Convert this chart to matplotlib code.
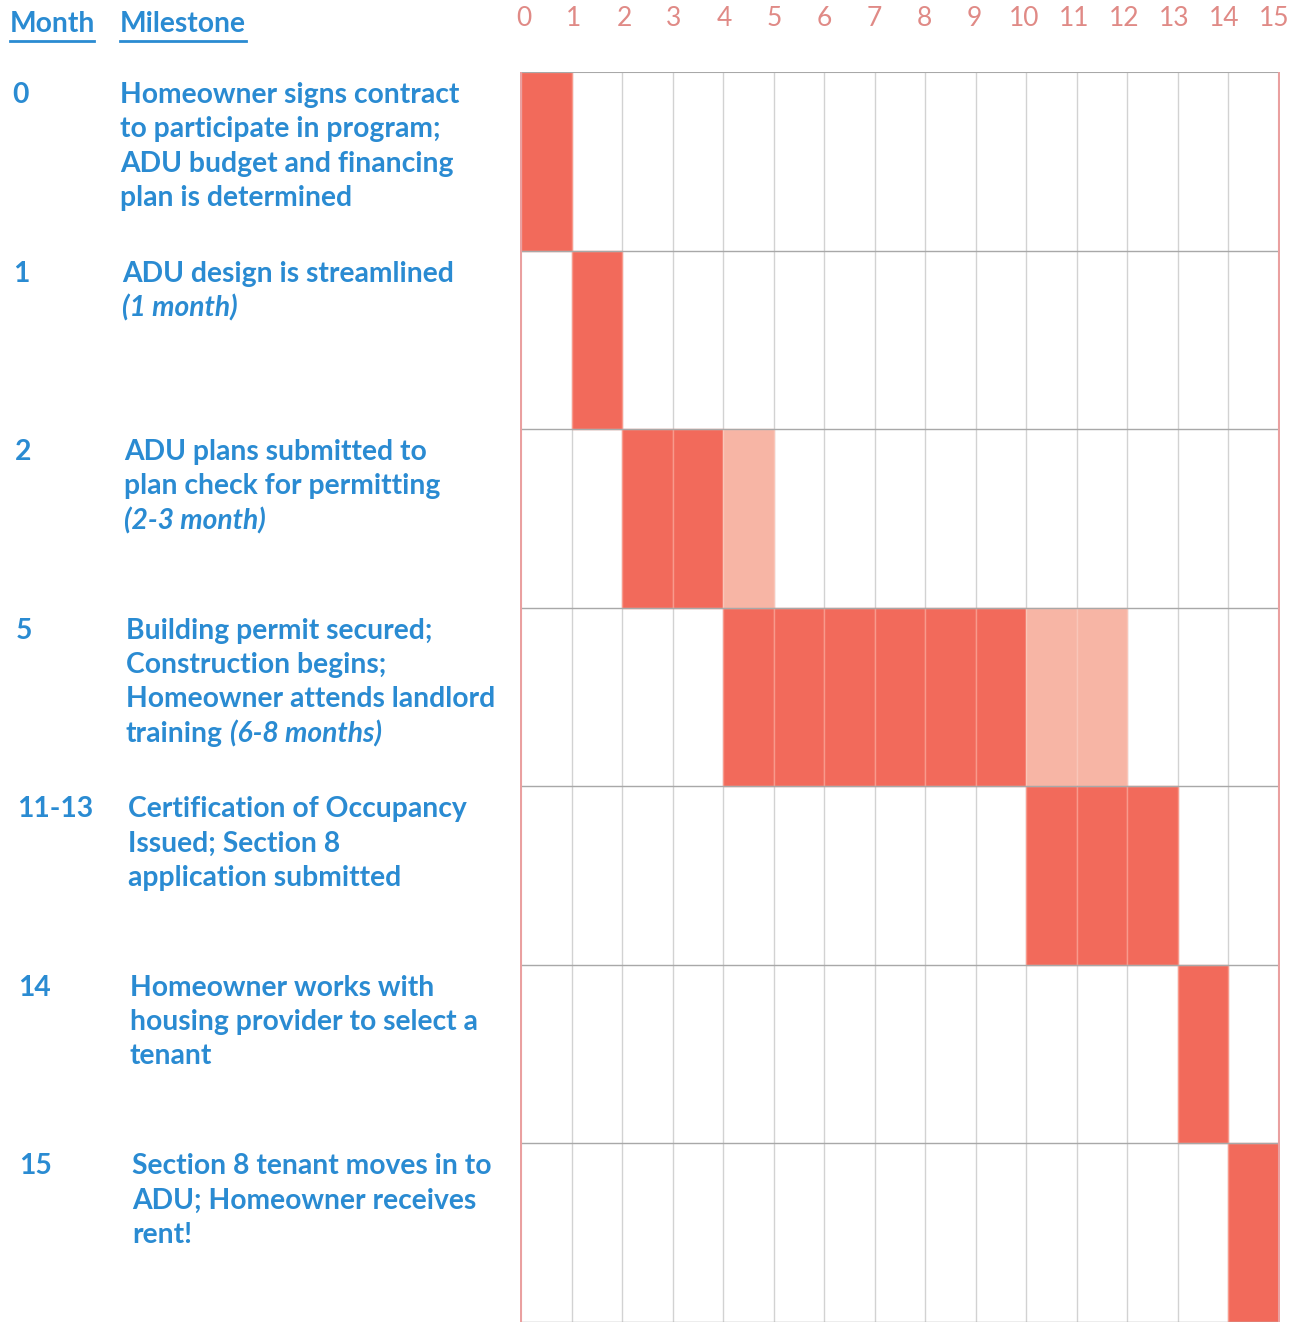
import numpy as np
import matplotlib.pyplot as plt

W, H = 1296, 1322

months = [str(m) for m in range(16)]
row_months = ['0', '1', '2', '5', '11-13', '14', '15']
milestones = [
    'Homeowner signs contract\nto participate in program;\nADU budget and financing\nplan is determined',
    'ADU design is streamlined',
    'ADU plans submitted to\nplan check for permitting',
    'Building permit secured;\nConstruction begins;\nHomeowner attends landlord\ntraining',
    'Certification of Occupancy\nIssued; Section 8\napplication submitted',
    'Homeowner works with\nhousing provider to select a\ntenant',
    'Section 8 tenant moves in to\nADU; Homeowner receives\nrent!',
]
# italic note, and whether it goes on a new line or after the last line
notes = ['', '(1 month)', '(2-3 month)', '(6-8 months)', '', '', '']
note_inline = [False, False, False, True, False, False, False]

start = [0, 1, 2, 4, 10, 13, 14]
dur = [1, 1, 2, 6, 3, 1, 1]        # firm duration
extra = [0, 0, 1, 2, 0, 0, 0]      # possible extension

dark = '#f26a5b'
light = '#f7b5a5'
blue = '#2a8bd2'
tickc = '#e08a86'
fs = 20.3
wt = 'bold'

plt.rcParams['font.family'] = ['Lato', 'DejaVu Sans']

fig = plt.figure(figsize=(W / 100, H / 100), dpi=100)
fig.patch.set_facecolor('white')

def px(x, y):
    return x / W, 1 - y / H

ax = fig.add_axes([520 / W, 0, 760 / W, (H - 72) / H])
n = len(start)
for i in range(n):
    cells = np.arange(start[i], start[i] + dur[i])
    ax.barh([i] * len(cells), [1] * len(cells), left=cells, height=1,
            color=dark, edgecolor='#f89a8c', linewidth=1, zorder=2)
    if extra[i]:
        cells = np.arange(start[i] + dur[i], start[i] + dur[i] + extra[i])
        ax.barh([i] * len(cells), [1] * len(cells), left=cells, height=1,
                color=light, edgecolor='#f9c6b9', linewidth=1, zorder=2)

for x in range(1, 15):
    ax.axvline(x, color='#d2d2d2', lw=1, zorder=1)
for y in range(n):
    ax.axhline(y + 0.5, color='#a8a8a8', lw=1, zorder=3)
ax.axhline(-0.5, color='#a8a8a8', lw=1.5, zorder=3)
ax.axvline(0, color='#eaa0a0', lw=1.5, zorder=3)
ax.axvline(15, color='#eaa0a0', lw=1.5, zorder=3)

ax.set_xlim(-0.02, 15.02)
ax.set_ylim(n - 0.5, -0.5)
ax.set_xticks([])
ax.set_yticks([])
for s in ax.spines.values():
    s.set_visible(False)

# month numbers along top
for m, lab in enumerate(months):
    fig.text(*px(520 + m * 50.0 + 4, 18), lab, color=tickc, fontsize=19,
             fontweight='normal', ha='center', va='center')

# headers
fig.text(*px(10, 24), 'Month', color=blue, fontsize=fs, fontweight=wt,
         ha='left', va='center')
fig.text(*px(120, 24), 'Milestone', color=blue, fontsize=fs, fontweight=wt,
         ha='left', va='center')
fig.add_artist(plt.Line2D([10 / W, 94 / W], [1 - 41 / H] * 2, color=blue, lw=2))
fig.add_artist(plt.Line2D([120 / W, 246 / W], [1 - 41 / H] * 2, color=blue, lw=2))

row_h = (H - 72) / n
lh = 34.3
inline = []
for i in range(n):
    top = 72 + i * row_h + 10
    xo = 120 + i * 2
    fig.text(*px(12 + i * 1.2, top), row_months[i], color=blue, fontsize=fs,
             fontweight=wt, ha='left', va='top')
    lines = milestones[i].split('\n')
    for k, line in enumerate(lines):
        t = fig.text(*px(xo, top + k * lh), line, color=blue, fontsize=fs,
                     fontweight=wt, ha='left', va='top')
    if notes[i]:
        if note_inline[i]:
            inline.append((t, xo, top + (len(lines) - 1) * lh, notes[i]))
        else:
            fig.text(*px(xo, top + len(lines) * lh), notes[i], color=blue,
                     fontsize=fs, fontweight=wt, fontstyle='italic',
                     ha='left', va='top')

# italic note that follows text on the same line
fig.canvas.draw()
for t, xo, y, note in inline:
    bb = t.get_window_extent()
    fig.text(*px(bb.x1 + 7, y), note, color=blue, fontsize=fs, fontweight=wt,
             fontstyle='italic', ha='left', va='top')

fig.savefig('out.png', dpi=100, facecolor='white')
